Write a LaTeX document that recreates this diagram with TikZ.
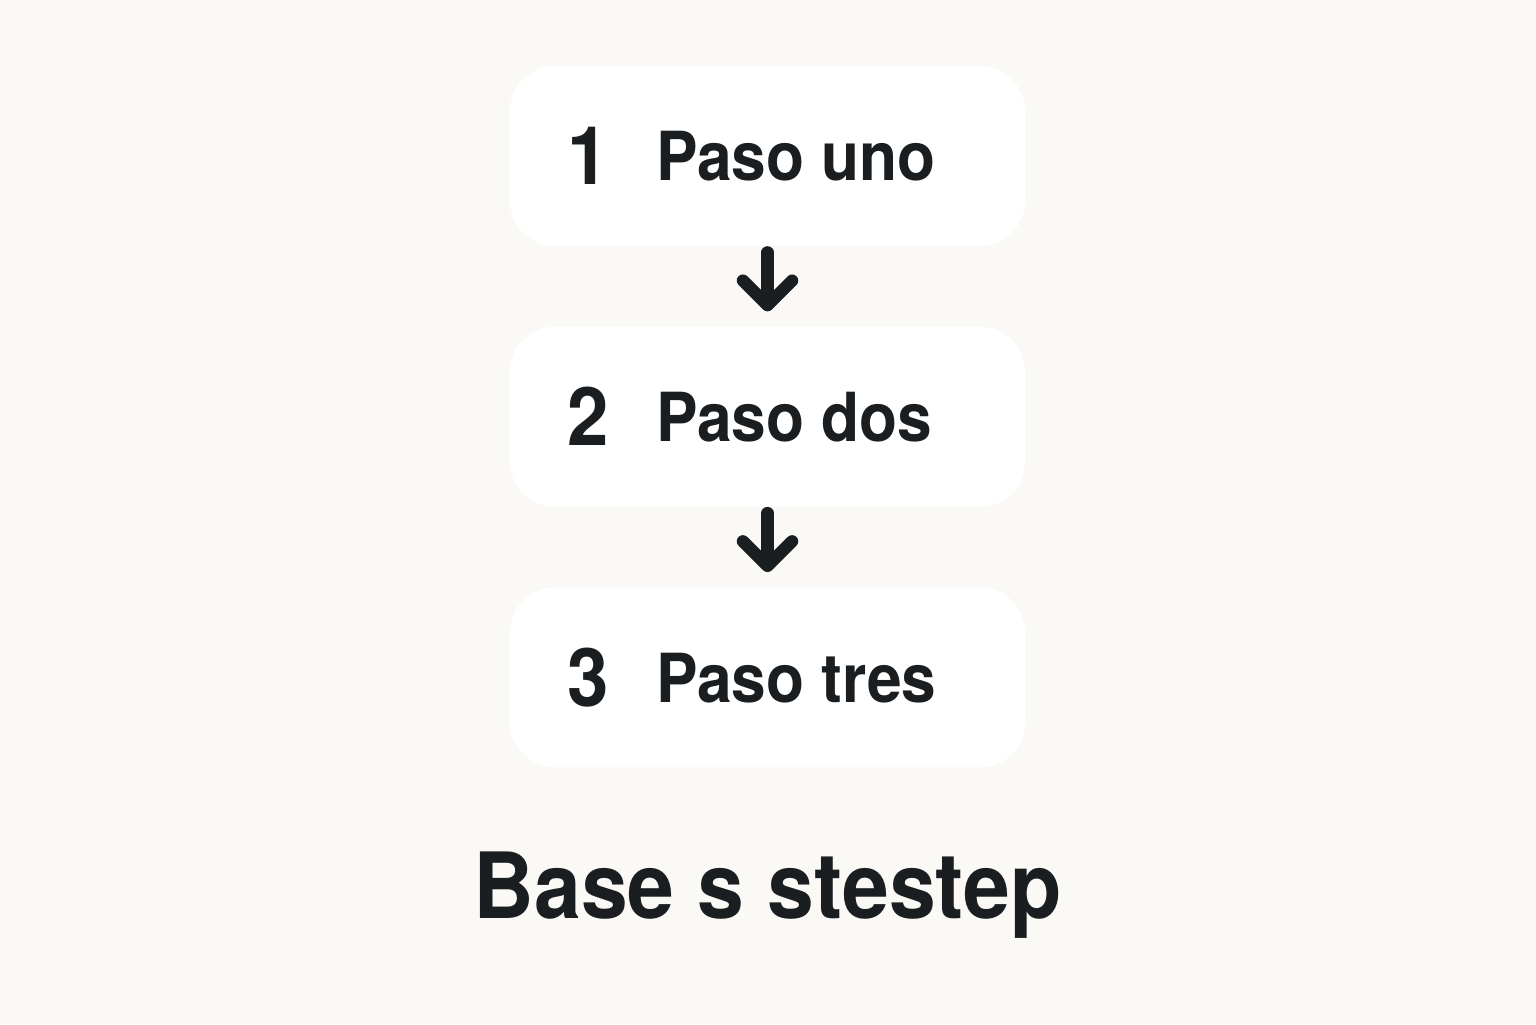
\documentclass[tikz,border=0pt]{standalone}
\usepackage{fontspec}
\setmainfont{TeX Gyre Heros}
\newfontfamily\stepfont[FakeStretch=0.92]{TeX Gyre Heros}
\usetikzlibrary{positioning,arrows.meta}
\definecolor{paper}{HTML}{FAF9F6}
\definecolor{ink}{HTML}{1B1E20}
\tikzset{
	stepbox/.style={fill=white, rounded corners=0.9cm, minimum width=10.3cm, minimum height=3.6cm, inner sep=0pt},
	stepnum/.style={anchor=west, inner sep=0pt, text=ink, text height=33pt, text depth=0pt, font=\stepfont\bfseries\fontsize{46}{46}\selectfont},
	steplabel/.style={anchor=west, inner sep=0pt, text=ink, text height=28pt, text depth=0pt, font=\stepfont\bfseries\fontsize{38.5}{38.5}\selectfont},
	steparrow/.style={draw=ink, line width=7pt, line cap=round, shorten <=0.12cm, shorten >=0.3cm, -{Straight Barb[round,length=14pt,width=28pt]}}
}
\begin{document}
\begin{tikzpicture}
	\fill[paper] (0,0) rectangle (30.72,20.48);
	\useasboundingbox (0,0) rectangle (30.72,20.48);
	% the three steps
	\node[stepbox] (box1) at (15.35,17.36) {};
	\node[stepbox, below=1.6cm of box1] (box2) {};
	\node[stepbox, below=1.6cm of box2] (box3) {};
	\node[stepnum] (num1) at ([xshift=1.15cm]box1.west) {1};
	\node[stepnum] (num2) at ([xshift=1.15cm]box2.west) {2};
	\node[stepnum] (num3) at ([xshift=1.15cm]box3.west) {3};
	\node[steplabel] (lab1) at ([xshift=2.92cm]box1.west) {Paso uno};
	\node[steplabel] (lab2) at ([xshift=2.92cm]box2.west) {Paso dos};
	\node[steplabel] (lab3) at ([xshift=2.92cm]box3.west) {Paso tres};
	\draw[steparrow] (box1) -- (box2);
	\draw[steparrow] (box2) -- (box3);
	% caption
	\node[anchor=base, inner sep=0pt, text=ink, font=\stepfont\bfseries\fontsize{52}{52}\selectfont] (title) at (15.35,2.12) {Base s stestep};
\end{tikzpicture}
\end{document}
